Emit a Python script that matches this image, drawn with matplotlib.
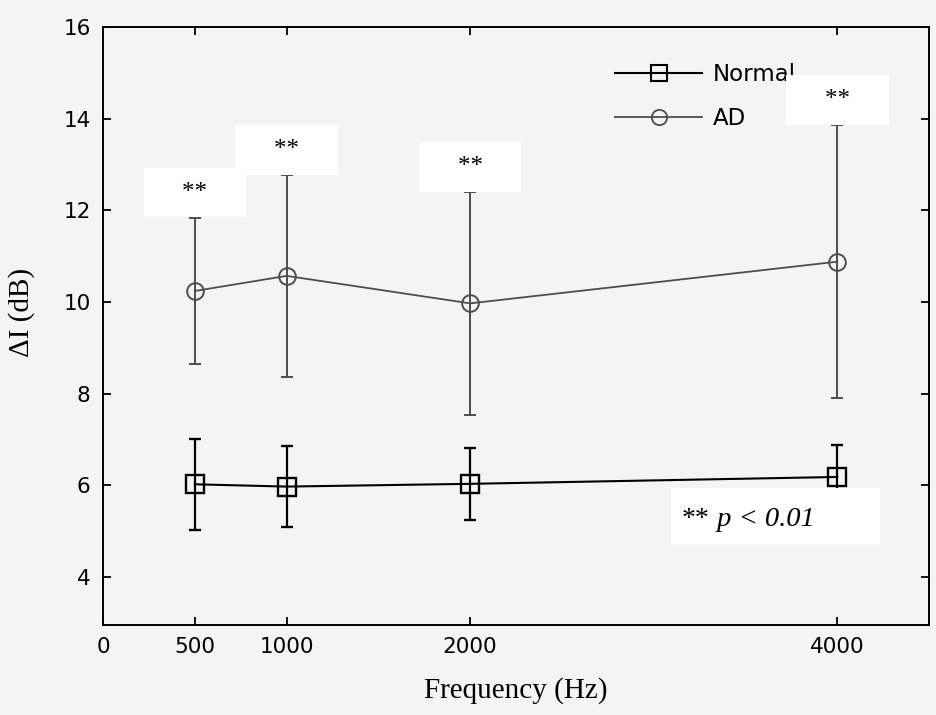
"""
Intensity discrimination threshold (delta I) by frequency, Normal vs AD.
"""
import matplotlib
matplotlib.use("Agg")
import matplotlib.pyplot as plt
from matplotlib.lines import Line2D
from matplotlib.patches import Rectangle

# data
frequencies = [500, 1000, 2000, 4000]
normal_mean = [6.02, 5.97, 6.03, 6.18]
normal_err = [0.99, 0.88, 0.78, 0.70]
ad_mean = [10.24, 10.57, 9.97, 10.88]
ad_err = [1.60, 2.20, 2.43, 2.98]
signif_marks = ["**", "**", "**", "**"]

x_ticks = [0, 500, 1000, 2000, 4000]
y_ticks = [4, 6, 8, 10, 12, 14, 16]

BG = "#f4f4f4"
AD_GREY = "#4d4d4d"
SERIF = ["Liberation Serif", "DejaVu Serif"]


def main():
    fig = plt.figure(figsize=(9.37, 7.15), dpi=100, facecolor=BG)
    ax = fig.add_axes([0.110, 0.126, 0.8815, 0.836])
    ax.set_facecolor(BG)

    # Normal group
    ax.errorbar(frequencies, normal_mean, yerr=normal_err, color="black",
                lw=1.5, elinewidth=1.6, capsize=4.3, capthick=1.6,
                marker="s", ms=13, mfc="none", mec="black", mew=1.7, zorder=3)
    # AD group
    ax.errorbar(frequencies, ad_mean, yerr=ad_err, color=AD_GREY,
                lw=1.3, elinewidth=1.4, capsize=4.3, capthick=1.4,
                marker="o", ms=12, mfc="none", mec=AD_GREY, mew=1.4, zorder=3)

    # significance stars above each AD error bar, on white patches
    for f, m, e, s in zip(frequencies, ad_mean, ad_err, signif_marks):
        ax.text(f, m + e + 0.55, "    " + s + "    ", ha="center", va="center",
                fontsize=18, family=SERIF, zorder=6,
                bbox=dict(boxstyle="square,pad=0.55", fc="white", ec="none"))

    # footnote: white patch, upright stars, italic p-value
    ax.add_patch(Rectangle((0.687, 0.134), 0.254, 0.095, transform=ax.transAxes,
                           fc="white", ec="none", zorder=6))
    star = ax.text(0.701, 0.176, "**", transform=ax.transAxes, ha="left",
                   va="center", fontsize=20, family=SERIF, zorder=7)
    ax.annotate(" p < 0.01", xy=(1, 0.5), xycoords=star, ha="left",
                va="center", fontsize=20.5, family=SERIF, style="italic",
                zorder=7)

    ax.set_xlim(0, 4500)
    ax.set_ylim(2.95, 16)
    ax.set_xticks(x_ticks)
    ax.set_yticks(y_ticks)
    ax.tick_params(direction="in", top=True, right=True, length=6, width=1.3,
                   labelsize=15.5, pad=9)
    for sp in ax.spines.values():
        sp.set_linewidth(1.4)

    ax.set_xlabel("Frequency (Hz)", fontsize=21, family=SERIF)
    ax.set_ylabel("\u0394I (dB)", fontsize=21, family=SERIF)
    ax.xaxis.set_label_coords(0.5, -0.088)
    ax.yaxis.set_label_coords(-0.082, 0.523)

    handles = [
        Line2D([0], [0], color="black", lw=1.5, marker="s", ms=11, mfc="none",
               mec="black", mew=1.5),
        Line2D([0], [0], color=AD_GREY, lw=1.3, marker="o", ms=11, mfc="none",
               mec=AD_GREY, mew=1.3),
    ]
    ax.legend(handles, ["Normal", "AD"], loc="upper left",
              bbox_to_anchor=(0.62, 0.94), frameon=False, fontsize=16.5,
              handlelength=3.8, handletextpad=0.45, labelspacing=0.9,
              borderpad=0, borderaxespad=0, numpoints=1)

    fig.savefig("out.png", dpi=100, facecolor=BG)
    plt.close(fig)


if __name__ == "__main__":
    main()
